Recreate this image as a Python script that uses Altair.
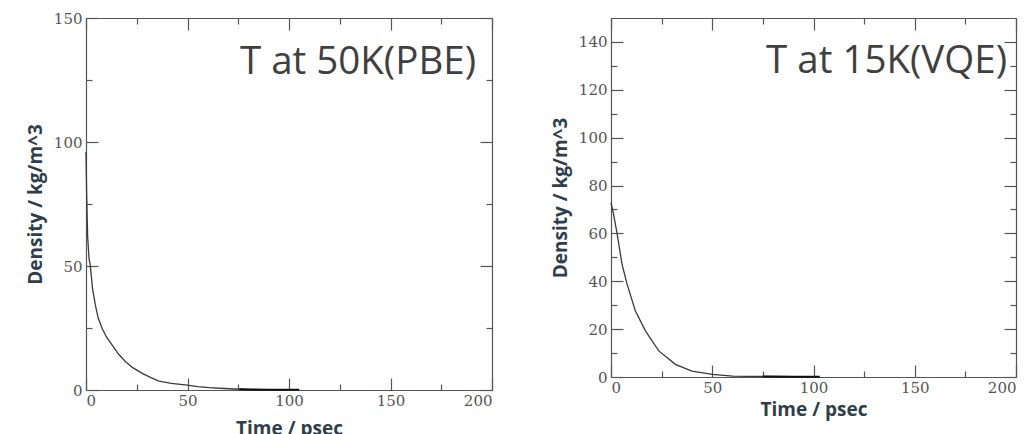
import altair as alt
import pandas as pd

# ---- data ----
pbe_time = [0, 0.3, 0.8, 1.5, 2.1, 3.2, 4.6, 6, 7.9, 10, 12.9, 16, 19.5, 23, 27.7, 32, 36, 42, 50, 55, 60.7, 68, 75.6, 80, 90, 105]
pbe_density = [96, 80, 62, 53, 50.4, 41, 34.3, 29, 24.9, 21.5, 18.1, 14.5, 11.4, 9, 6.7, 5, 3.6, 2.7, 2.0, 1.4, 0.94, 0.6, 0.3, 0.2, 0.1, 0.1]

vqe_time = [0, 1.2, 3, 5.4, 7.9, 12, 17, 23.6, 31.8, 40, 50, 60, 75, 90, 103]
vqe_density = [72.8, 68.3, 60, 47.3, 38.9, 27.7, 19.3, 10.9, 5.3, 2.5, 1.1, 0.4, 0.2, 0.1, 0.1]

x_ticks = [0, 25, 50, 75, 100, 125, 150, 175, 200]
pbe_y_ticks = [0, 25, 50, 75, 100, 125, 150]
vqe_y_ticks = [0, 10, 20, 30, 40, 50, 60, 70, 80, 90, 100, 110, 120, 130, 140]

pbe_title = "T at 50K(PBE)"
vqe_title = "T at 15K(VQE)"

AX = "#555555"


def tick_cond(mod):
    return {"condition": {"test": f"datum.value % {mod} === 0", "value": -12}, "value": -6}


def panel(t, d, title, w, h, yvals, ymod, title_right, title_base, xtitle_pad):
    df = pd.DataFrame({"t": t, "d": d})
    xs = alt.Scale(domain=[0, 200], nice=False, zero=False)
    ys = alt.Scale(domain=[0, 150], nice=False)
    common = dict(grid=False, domainColor=AX, tickColor=AX, tickWidth=1.2, domainWidth=1.2)
    xa = alt.Axis(orient="bottom", values=x_ticks, tickSize=tick_cond(50),
                  labelExpr="datum.value % 50 === 0 ? datum.label : ''",
                  labelFont="DejaVu Serif", labelFontSize=15, labelColor=AX, labelPadding=15,
                  title="Time / psec", titleFont="Open Sans", titleFontWeight="bold",
                  titleFontSize=19, titleColor="#2f3e4a", titlePadding=xtitle_pad, **common)
    ya = alt.Axis(orient="left", values=yvals, tickSize=tick_cond(ymod),
                  labelExpr=f"datum.value % {ymod} === 0 ? datum.label : ''",
                  labelFont="DejaVu Serif", labelFontSize=15, labelColor=AX, labelPadding=16,
                  title="Density / kg/m^3", titleFont="Open Sans", titleFontWeight="bold",
                  titleFontSize=19, titleColor="#2f3e4a", titlePadding=8, **common)
    xa2 = alt.Axis(orient="top", values=x_ticks, tickSize=tick_cond(50), labels=False, title=None, **common)
    ya2 = alt.Axis(orient="right", values=yvals, tickSize=tick_cond(ymod), labels=False, title=None, **common)

    main = alt.Chart(df).mark_line(color="#3a3a3a", strokeWidth=1.3).encode(
        x=alt.X("t:Q", scale=xs, axis=xa),
        y=alt.Y("d:Q", scale=ys, axis=ya),
    )
    tail = alt.Chart(df).transform_filter("datum.t >= 75").mark_line(color="#111111", strokeWidth=2.2).encode(
        x=alt.X("t:Q", scale=xs, axis=xa),
        y=alt.Y("d:Q", scale=ys, axis=ya),
    )
    mirror = alt.Chart(df).mark_line(opacity=0).encode(
        x=alt.X("t:Q", scale=xs, axis=xa2),
        y=alt.Y("d:Q", scale=ys, axis=ya2),
    )
    label = alt.Chart(pd.DataFrame({"label": [title]})).mark_text(
        align="right", baseline="alphabetic", font="Open Sans", fontSize=38.5,
        color="#404040",
    ).encode(text="label:N", x=alt.value(w - title_right), y=alt.value(title_base))
    return alt.layer(alt.layer(main, tail), mirror, label).resolve_scale(
        x="independent", y="independent"
    ).properties(width=w, height=h)


left = panel(pbe_time, pbe_density, pbe_title, 406, 372, pbe_y_ticks, 50, 16, 56, 11)
right = panel(vqe_time, vqe_density, vqe_title, 405, 359, vqe_y_ticks, 20, 9, 55, 5)

chart = alt.hconcat(left, right, spacing=56).properties(
    padding={"left": 17, "top": 2, "right": 0, "bottom": 0}
).configure_view(stroke=AX, strokeWidth=1.2).configure(background="white")

chart.save("out.html", embed_options={"renderer": "svg", "actions": False})
